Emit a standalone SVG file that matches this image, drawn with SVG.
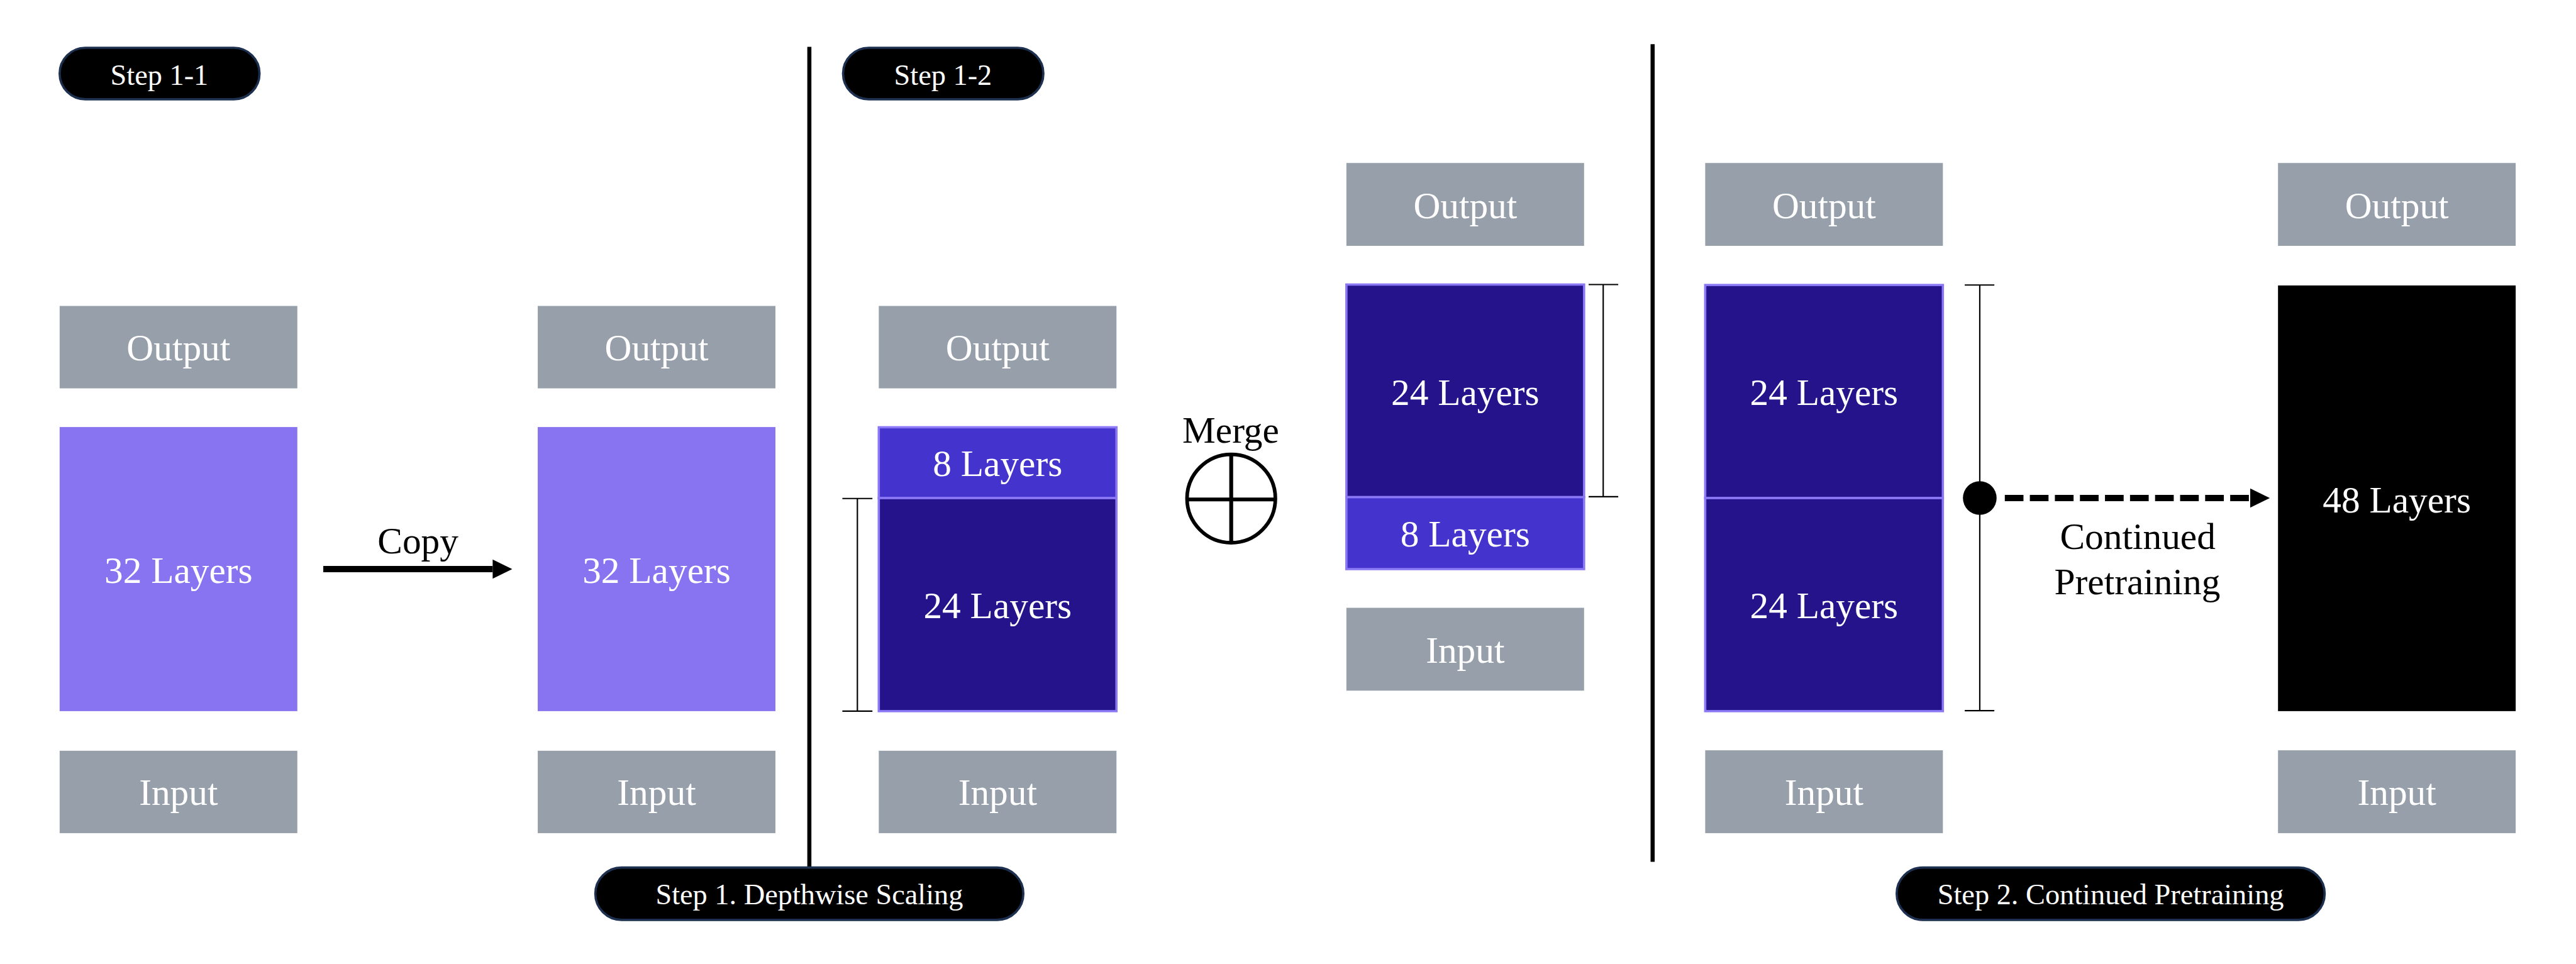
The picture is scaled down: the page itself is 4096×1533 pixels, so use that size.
<svg xmlns="http://www.w3.org/2000/svg" width="4096" height="1533" viewBox="0 0 4096 1533">
<style>
.io{fill:#97a0aa}
.l32{fill:#8874f1}
.l8{fill:#4433cc;stroke:#8a78f5;stroke-width:5}
.l24{fill:#25138c;stroke:#8a78f5;stroke-width:5}
.blk{fill:#000}
.t{font-family:"Liberation Serif","Times New Roman",serif;font-size:82px;text-anchor:middle}
.w{fill:#fff}
.k{fill:#000}
.pill{fill:#000;stroke:#1e3050;stroke-width:5}
.pt{font-family:"Liberation Serif","Times New Roman",serif;font-size:64px;fill:#fff;text-anchor:middle}
.div{stroke:#000;stroke-width:9}
.br{stroke:#000;stroke-width:3;fill:none}
</style>
<defs>
<marker id="ah" markerUnits="userSpaceOnUse" markerWidth="43" markerHeight="42" refX="0" refY="21" orient="auto" overflow="visible">
<path d="M0,0 L43,21 L0,42 Z" fill="#000"/>
</marker>
</defs>
<rect width="4096" height="1533" fill="#fff"/>
<g transform="scale(0.724)">
<g id="dividers">
<line class="div" x1="1777.5" y1="103" x2="1777.5" y2="1904"/>
<line class="div" x1="3629.5" y1="97" x2="3629.5" y2="1893"/>
</g>
<g id="pill-step1-1"><rect class="pill" x="131" y="105" width="439" height="113" rx="56.5"/><text class="pt" x="350" y="186">Step 1-1</text></g>
<g id="pill-step1-2"><rect class="pill" x="1851.5" y="105" width="440" height="113" rx="56.5"/><text class="pt" x="2071" y="186">Step 1-2</text></g>
<g id="pill-step1"><rect class="pill" x="1307.5" y="1905.5" width="940" height="115" rx="57.5"/><text class="pt" x="1777.5" y="1986">Step 1. Depthwise Scaling</text></g>
<g id="pill-step2"><rect class="pill" x="4165.5" y="1905.5" width="940" height="115" rx="57.5"/><text class="pt" x="4635.5" y="1986">Step 2. Continued Pretraining</text></g>

<g id="col1">
<rect class="io" x="131" y="672" width="522" height="181"/><text class="t w" x="392" y="792">Output</text>
<rect class="l32" x="131" y="938" width="522" height="624"/><text class="t w" x="392" y="1280">32 Layers</text>
<rect class="io" x="131" y="1649" width="522" height="181"/><text class="t w" x="392" y="1768">Input</text>
</g>
<g id="col2">
<rect class="io" x="1181" y="672" width="522" height="181"/><text class="t w" x="1442" y="792">Output</text>
<rect class="l32" x="1181" y="938" width="522" height="624"/><text class="t w" x="1442" y="1280">32 Layers</text>
<rect class="io" x="1181" y="1649" width="522" height="181"/><text class="t w" x="1442" y="1768">Input</text>
</g>
<g id="col3">
<rect class="io" x="1930" y="672" width="522" height="181"/><text class="t w" x="2191" y="792">Output</text>
<rect class="l8" x="1930" y="938.5" width="522" height="155.5"/><text class="t w" x="2191" y="1046">8 Layers</text>
<rect class="l24" x="1930" y="1094" width="522" height="468"/><text class="t w" x="2191" y="1358">24 Layers</text>
<rect class="io" x="1930" y="1649" width="522" height="181"/><text class="t w" x="2191" y="1768">Input</text>
<path class="br" d="M1850,1095 H1916 M1883,1095 V1562 M1850,1562 H1916"/>
</g>
<g id="merge">
<text class="t k" x="2703" y="972">Merge</text>
<circle cx="2704" cy="1095" r="97" fill="none" stroke="#000" stroke-width="8"/>
<path d="M2607,1097 H2801 M2704,998 V1192" stroke="#000" stroke-width="8.5"/>
</g>
<g id="col4">
<rect class="io" x="2957" y="358" width="522" height="182"/><text class="t w" x="3218" y="479">Output</text>
<rect class="l24" x="2957" y="625" width="522" height="467"/><text class="t w" x="3218" y="889">24 Layers</text>
<rect class="l8" x="2957" y="1092" width="522" height="158"/><text class="t w" x="3218" y="1200">8 Layers</text>
<rect class="io" x="2957" y="1335" width="522" height="182"/><text class="t w" x="3218" y="1456">Input</text>
<path class="br" d="M3489,625 H3554 M3521,625 V1091 M3489,1091 H3554"/>
</g>
<g id="col5">
<rect class="io" x="3745" y="358" width="522" height="182"/><text class="t w" x="4006" y="479">Output</text>
<rect class="l24" x="3745" y="626" width="522" height="468"/><text class="t w" x="4006" y="890">24 Layers</text>
<rect class="l24" x="3745" y="1094" width="522" height="468"/><text class="t w" x="4006" y="1358">24 Layers</text>
<rect class="io" x="3745" y="1648" width="522" height="182"/><text class="t w" x="4006" y="1768">Input</text>
<path class="br" d="M4315,626 H4380 M4348,626 V1561 M4315,1561 H4380"/>
<circle cx="4348" cy="1094" r="37" fill="#000"/>
</g>
<g id="col6">
<rect class="io" x="5003" y="358" width="522" height="182"/><text class="t w" x="5264" y="479">Output</text>
<rect class="blk" x="5003" y="627" width="522" height="935"/><text class="t w" x="5264" y="1126">48 Layers</text>
<rect class="io" x="5003" y="1648" width="522" height="182"/><text class="t w" x="5264" y="1768">Input</text>
</g>
<g id="connectors">
<line x1="710" y1="1250" x2="1082" y2="1250" stroke="#000" stroke-width="14" marker-end="url(#ah)"/>
<text class="t k" x="918" y="1215">Copy</text>
<line x1="4403" y1="1094" x2="4942" y2="1094" stroke="#000" stroke-width="14" stroke-dasharray="41 14" marker-end="url(#ah)"/>
<text class="t k" x="4695" y="1206">Continued</text>
<text class="t k" x="4694" y="1305">Pretraining</text>
</g>
</g>
</svg>
